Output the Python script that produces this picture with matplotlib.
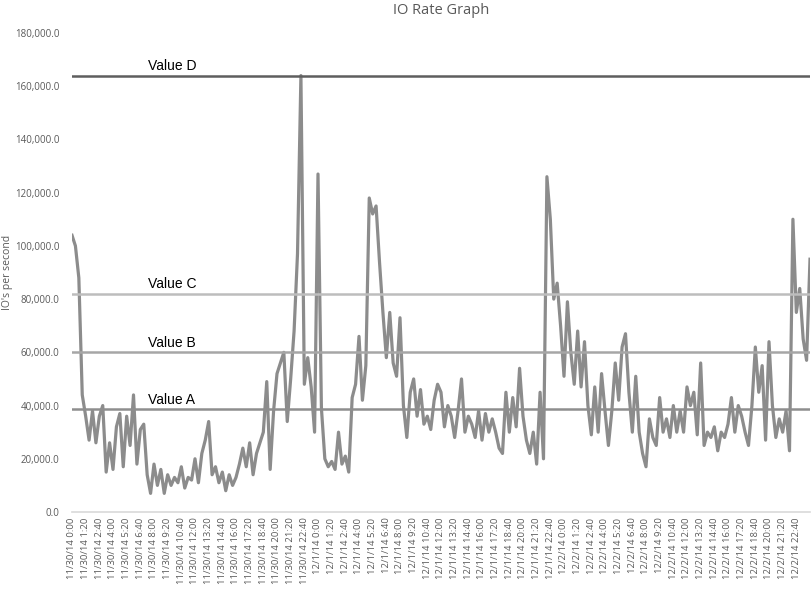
import matplotlib
matplotlib.use("Agg")
import matplotlib.pyplot as plt
from matplotlib.ticker import FuncFormatter

# IO rate samples, one every 20 minutes from 11/30/14 0:00 (thousands of IO/s)
io_rate_k = [
    104, 100, 88, 44, 36, 27, 38, 26, 36, 40,
    15, 26, 16, 32, 37, 17, 36, 25, 44, 18,
    31, 33, 14, 7, 18, 10, 16, 7, 14, 10,
    13, 11, 17, 9, 13, 12, 20, 11, 22, 27,
    34, 14, 17, 11, 15, 8, 14, 10, 13, 18,
    24, 17, 26, 14, 22, 26, 30, 49, 16, 38,
    52, 56, 60, 34, 50, 68, 97, 164, 48, 58,
    47, 30, 127, 39, 20, 17, 19, 16, 30, 18,
    21, 15, 43, 48, 66, 42, 55, 118, 112, 115,
    94, 75, 58, 75, 56, 51, 73, 40, 28, 45,
    50, 36, 46, 33, 36, 31, 42, 48, 45, 32,
    40, 36, 28, 38, 50, 30, 36, 33, 28, 38,
    27, 37, 30, 35, 30, 24, 22, 45, 30, 43,
    32, 54, 36, 27, 22, 30, 18, 45, 20, 126,
    110, 80, 86, 70, 51, 79, 60, 48, 68, 47,
    64, 40, 29, 47, 30, 52, 38, 25, 38, 56,
    42, 62, 67, 45, 30, 51, 30, 22, 17, 35,
    28, 25, 43, 30, 35, 28, 40, 30, 38, 30,
    47, 40, 45, 29, 56, 25, 30, 28, 32, 23,
    30, 28, 33, 43, 30, 40, 36, 30, 25, 40,
    62, 45, 55, 27, 64, 40, 28, 35, 30, 38,
    23, 110, 75, 84, 65, 57, 95,
]
io_rate = [v * 1000 for v in io_rate_k]

# reference levels
ref_names = ["Value D", "Value C", "Value B", "Value A"]
ref_values = [164000, 82000, 60000, 38700]
ref_colors = ["#5e5e5e", "#bdbdbd", "#a6a6a6", "#8e8e8e"]

# category labels every 80 minutes
days = ["11/30/14", "12/1/14", "12/2/14"]
times = []
for h in range(0, 24 * 60, 80):
    times.append(f"{h // 60}:{h % 60:02d}")
tick_labels = [f"{d} {t}" for d in days for t in times]
tick_pos = [k * 4 for k in range(len(tick_labels))]

fig = plt.figure(figsize=(8.12, 5.90), dpi=100)
ax = fig.add_axes([72 / 812, 1 - 512 / 590, 738 / 812, 479 / 590])

x = list(range(len(io_rate)))
ax.plot(x, io_rate, color="#8c8c8c", lw=2.3, zorder=2, solid_joinstyle="round")

for name, val, col in zip(ref_names, ref_values, ref_colors):
    ax.axhline(val, color=col, lw=1.8, zorder=3)
    ax.text(22.3, val + 900, name, fontsize=10, family="Liberation Sans",
            color="black", va="bottom", ha="left", zorder=4)

ax.set_xlim(0, 216)
ax.set_ylim(0, 180000)
ax.set_yticks(range(0, 180001, 20000))
ax.yaxis.set_major_formatter(FuncFormatter(lambda v, p: f"{v:,.1f}"))
ax.set_xticks(tick_pos)
ax.set_xticklabels(tick_labels, rotation=90)

for s in ["top", "right", "left"]:
    ax.spines[s].set_visible(False)
ax.spines["bottom"].set_color("#d9d9d9")
ax.spines["bottom"].set_linewidth(1.2)
ax.tick_params(axis="y", length=0, labelsize=7, labelcolor="#595959", pad=9)
ax.tick_params(axis="x", length=0, labelsize=6.8, labelcolor="#595959", pad=4)
for lab in ax.get_xticklabels() + ax.get_yticklabels():
    lab.set_family("Open Sans")

fig.text(8 / 812, 1 - 272 / 590, "IO's per second", rotation=90, ha="center",
         va="center", fontsize=7.5, color="#595959", family="Open Sans")
fig.text(441 / 812, 1 - 11 / 590, "IO Rate Graph", ha="center", va="center",
         fontsize=10.5, color="#595959", family="Open Sans")

fig.savefig("out.png", dpi=100)
